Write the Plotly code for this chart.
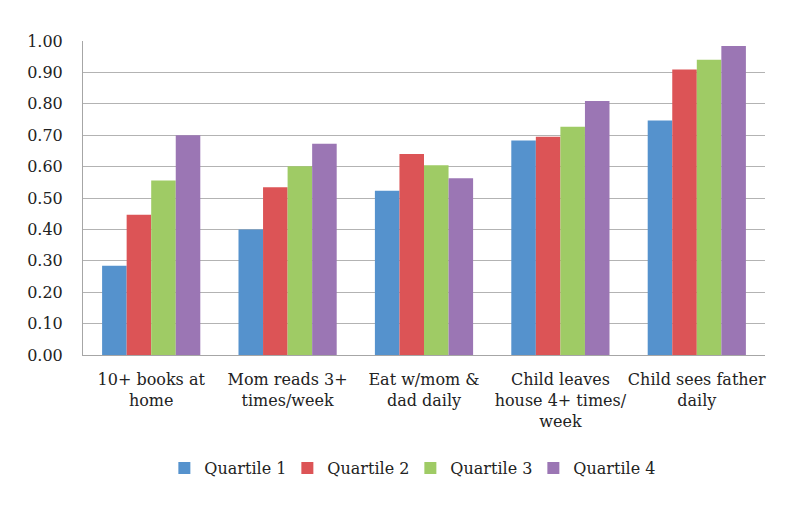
import plotly.graph_objects as go

categories = ["10+ books at<br>home", "Mom reads 3+<br>times/week", "Eat w/mom &<br>dad daily",
              "Child leaves<br>house 4+ times/<br>week", "Child sees father<br>daily"]
series_names = ["Quartile 1", "Quartile 2", "Quartile 3", "Quartile 4"]
q1 = [0.284, 0.400, 0.523, 0.683, 0.747]
q2 = [0.447, 0.534, 0.640, 0.695, 0.909]
q3 = [0.556, 0.601, 0.604, 0.727, 0.940]
q4 = [0.700, 0.673, 0.563, 0.809, 0.984]
colors = ["#5592cd", "#dc5456", "#9fcb65", "#9b76b4"]

fig = go.Figure()
for name, vals, c in zip(series_names, [q1, q2, q3, q4], colors):
    fig.add_trace(go.Bar(x=categories, y=vals, name=name, marker=dict(color=c, line=dict(width=0))))

font = dict(family="DejaVu Serif", size=16, color="#222")
fig.update_layout(
    width=800, height=501,
    margin=dict(l=75, r=43, t=33, b=154, autoexpand=False),
    paper_bgcolor="white", plot_bgcolor="white",
    barmode="group", bargap=0.28, bargroupgap=0,
    font=font,
    showlegend=True,
    legend=dict(orientation="h", x=0.48, xanchor="center", y=-0.36, yanchor="middle",
                font=font, itemwidth=30, tracegroupgap=0,
                entrywidth=78, entrywidthmode="pixels"),
    xaxis=dict(showline=True, linecolor="#a6a6a6", linewidth=1, ticks="", tickfont=font,
               tickangle=0, automargin=False, ticklabelstandoff=10),
    yaxis=dict(range=[0, 1.0001], dtick=0.1, tickformat=".2f", showgrid=True, gridcolor="#b3b3b3",
               gridwidth=1, showline=True, linecolor="#a6a6a6", linewidth=1, zeroline=False,
               ticks="", tickfont=font, ticklabelstandoff=16, automargin=False),
)
fig.write_html("out.html")
